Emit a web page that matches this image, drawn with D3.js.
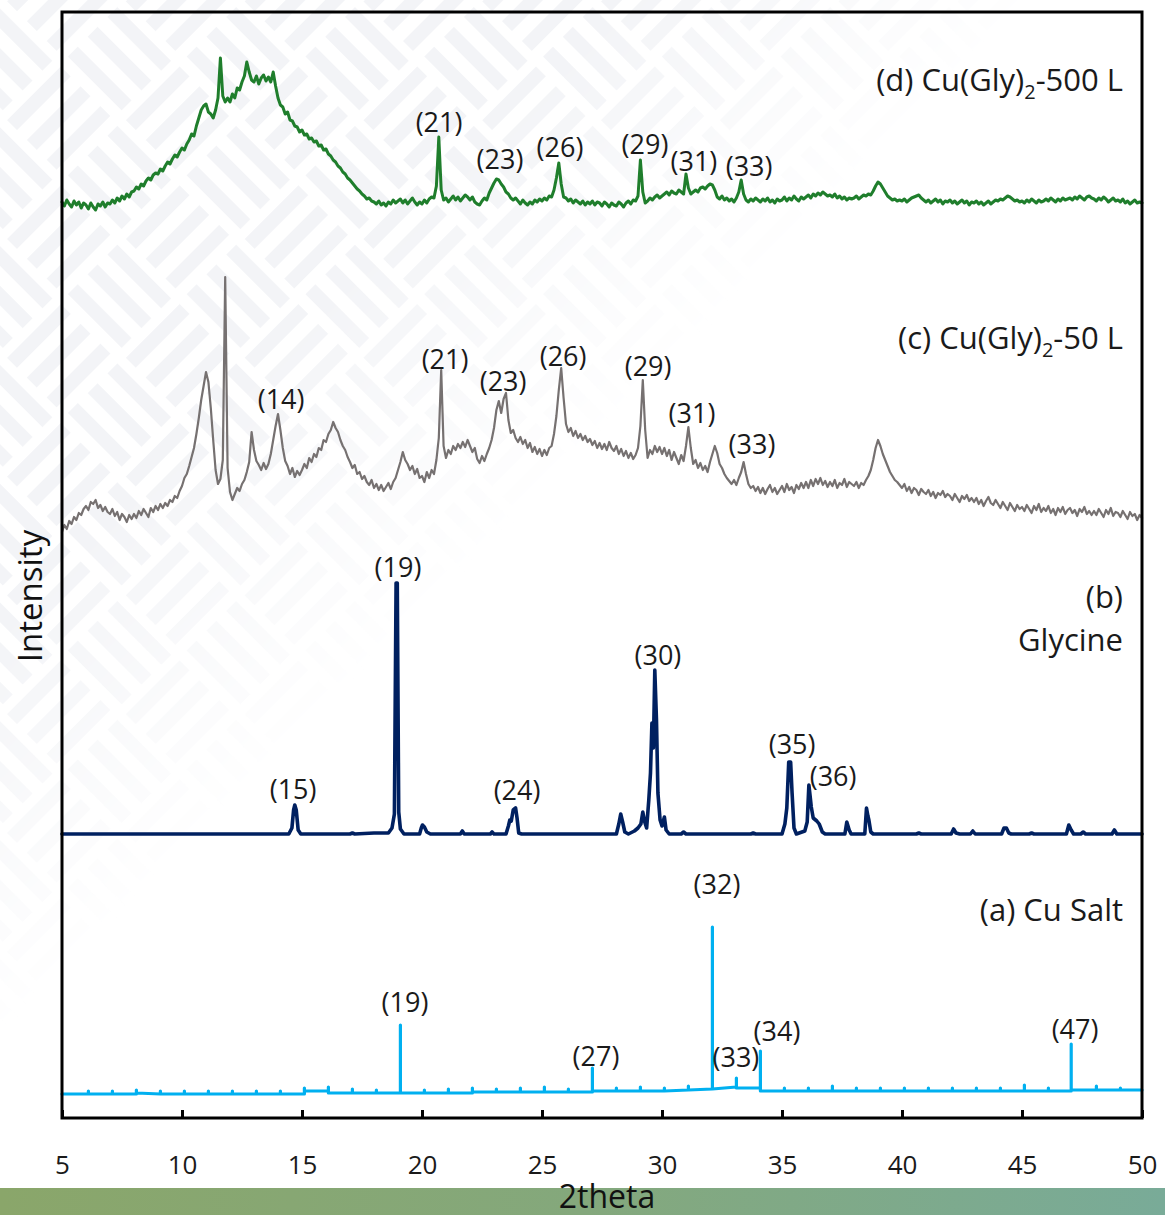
<!doctype html>
<html>
  <head>
    <meta charset="utf-8">
    <script src="https://cdnjs.cloudflare.com/ajax/libs/d3/7.8.5/d3.min.js"></script>
    <style>
      body { margin: 0; background: #fff; }
      svg { display: block; font-family: "Open Sans", "Noto Sans", sans-serif; }
    </style>
  </head>
  <body>
    <svg id="chart" width="1165" height="1215"></svg>
    <script>
      // 2theta grid of the two measured Cu(Gly)2 scans (0.1 deg step)
      var scanStart = 5, scanStep = 0.1;

      // (d) Cu(Gly)2-500 L, one row per degree
      var gly500 = [
        36,32,38,34,31,37,33,36,30,35, 33,29,35,31,28,34,32,36,31,35,
        34,38,35,40,37,42,39,44,41,46, 47,51,49,54,52,57,60,58,63,65,
        64,69,67,72,76,74,79,83,81,86, 90,88,94,98,104,102,112,120,128,132,
        134,126,124,120,128,140,180,142,136,140, 136,144,140,150,148,156,162,176,166,158,
        156,162,154,160,163,157,161,156,166,152, 140,133,131,124,126,118,117,112,111,106,
        108,103,104,99,100,96,97,92,93,88, 89,84,82,78,76,72,70,66,64,60,
        58,55,52,49,47,44,42,39,40,37, 36,34,37,33,35,32,36,34,38,35,
        37,39,35,38,34,37,40,36,33,36, 34,38,35,39,41,40,52,101,48,38,
        40,36,39,42,38,41,37,40,43,41, 38,41,36,34,33,37,40,38,45,50,
        55,59,58,54,51,46,44,40,38,40, 37,34,38,35,33,36,34,38,36,39,
        37,40,38,42,41,48,60,75,54,41, 40,37,39,35,38,36,34,37,33,36,
        34,37,33,36,35,32,36,34,31,35, 33,32,36,34,31,35,37,34,38,37,
        42,78,46,35,37,40,38,41,43,40, 42,44,46,43,47,45,44,48,46,44,
        64,50,44,46,48,46,50,51,49,52, 54,53,48,41,39,42,38,40,37,39,
        36,40,46,58,44,38,36,39,37,40, 38,36,39,37,40,36,38,35,39,37,
        38,41,37,40,38,42,39,37,41,39, 41,43,40,44,42,45,43,46,44,42,
        43,41,44,40,42,39,41,38,40,39, 40,42,39,41,43,42,44,43,47,52,
        56,54,50,46,42,40,38,39,37,38, 37,39,36,38,40,41,42,43,40,38,
        36,38,35,37,39,36,38,34,37,36, 38,35,37,34,36,38,35,37,33,36,
        35,37,34,36,33,35,37,34,36,38, 37,39,38,40,42,41,39,37,38,36,
        37,35,38,36,39,37,35,38,36,37, 39,37,40,38,36,39,37,40,38,39,
        40,38,41,39,42,40,38,41,42,40, 39,37,40,38,41,39,36,38,40,37,
        38,36,39,35,37,34,36,38,35,36, 35
      ];

      // (c) Cu(Gly)2-50 L
      var gly50 = [
        26,33,29,37,34,41,38,45,43,49, 52,48,56,54,58,50,53,47,51,46,
        44,49,42,46,38,44,41,36,43,39, 44,40,47,43,49,45,41,50,46,52,
        48,54,50,55,52,58,56,62,60,67, 72,80,84,92,101,110,124,140,158,172,
        186,176,150,118,88,74,79,98,281,90, 66,58,64,70,67,74,78,86,96,126,
        108,97,93,88,95,89,94,104,118,132, 144,128,110,97,92,84,90,81,87,83,
        88,94,90,100,96,104,101,110,108,118, 116,124,128,136,130,126,118,112,108,101,
        96,90,93,84,86,79,82,76,73,78, 70,74,68,73,67,71,75,69,76,80,
        88,96,106,98,94,88,92,84,89,80, 82,76,86,80,88,84,98,120,188,112,
        100,108,104,112,108,114,110,116,111,118, 112,106,110,99,95,102,97,104,110,118,
        130,148,157,145,159,165,138,125,128,120, 116,121,114,118,110,115,106,111,104,109,
        102,108,103,110,112,124,142,168,190,160, 134,126,130,122,127,120,124,118,122,116,
        119,113,117,110,115,109,114,108,116,110, 107,112,104,109,102,107,100,105,99,103,
        110,132,178,128,100,108,104,112,106,111, 104,110,102,108,98,106,100,94,103,97,
        112,131,110,94,98,90,95,88,92,86, 96,104,112,105,94,90,84,80,77,74,
        78,73,80,86,96,84,74,70,72,67, 71,65,70,64,69,73,66,70,64,68,
        72,66,74,68,71,65,73,69,75,70, 76,70,78,72,79,74,80,73,77,71,
        76,72,78,70,75,73,79,71,76,74, 72,76,70,75,73,78,82,88,98,110,
        118,112,104,98,92,86,82,78,76,73, 70,74,67,71,65,70,68,63,69,66,
        64,68,62,66,60,65,63,67,61,64, 62,58,64,60,56,62,59,63,57,60,
        56,60,54,58,52,57,61,55,53,58, 54,50,56,52,48,55,51,47,53,49,
        51,47,53,49,45,52,48,54,46,50, 47,52,45,49,43,50,46,51,44,48,
        50,45,48,42,49,46,51,44,47,43, 47,43,49,45,41,48,44,50,42,46,
        45,41,47,43,39,46,42,44,38,43, 40
      ];

      // (b) Glycine: [2theta, intensity]
      var glycine = [
        [5,14],[14.45,14],[14.58,20],[14.65,38],[14.7,43],[14.76,38],[14.84,18],[14.95,14],
        [17.0,14],[17.1,15],[17.2,14],[18.0,15],[18.6,15],[18.75,20],[18.85,34],[18.92,265],[18.97,265],[19.03,36],[19.1,19],[19.25,14],
        [19.9,14],[19.97,20],[20.02,23],[20.1,21],[20.2,16],[20.35,14],
        [21.6,14],[21.68,17],[21.76,14],[22.85,14],[22.92,16],[23.0,14],
        [23.5,14],[23.6,22],[23.66,28],[23.72,27],[23.8,38],[23.9,40],[23.96,30],[24.03,15],[24.15,14],
        [28.1,14],[28.2,24],[28.28,34],[28.36,26],[28.45,16],[28.6,14],
        [28.85,17],[29.0,20],[29.12,24],[29.2,36],[29.28,26],[29.36,20],[29.45,48],[29.52,75],[29.58,125],[29.64,100],
        [29.7,178],[29.77,128],[29.83,55],[29.92,28],[30.0,22],[30.1,31],[30.17,18],[30.3,14],
        [30.8,14],[30.9,16],[31.0,14],[33.7,14],[33.8,15],[33.9,14],
        [35.0,14],[35.12,24],[35.2,40],[35.28,86],[35.36,86],[35.42,55],[35.5,20],[35.6,14],
        [35.95,17],[36.05,26],[36.12,63],[36.18,50],[36.22,41],[36.3,30],[36.45,27],[36.55,24],[36.68,16],[36.8,14],
        [37.62,14],[37.7,26],[37.8,18],[37.88,14],
        [38.45,14],[38.52,40],[38.58,32],[38.62,28],[38.7,16],[38.8,14],
        [40.6,14],[40.7,15],[40.8,14],[42.05,14],[42.15,19],[42.25,15],[42.4,14],
        [42.85,14],[42.95,17],[43.05,14],[44.15,14],[44.25,20],[44.35,20],[44.45,15],[44.55,14],
        [45.3,14],[45.4,15],[45.5,14],[46.85,14],[46.95,23],[47.05,18],[47.15,14],
        [47.45,14],[47.55,16],[47.65,14],[48.75,14],[48.85,18],[48.95,14],[50,14]
      ];

      // (a) Cu salt: [2theta, intensity]
      var cuSalt = [
        [5.0,24],
        [6.1,24],[6.1,27],[6.1,24],[7.1,24],[7.1,27],[7.1,24],[8.1,24],[8.1,28],[8.1,25],
        [9.1,24],[9.1,27],[9.1,24],[10.1,24],[10.1,27],[10.1,24],[11.1,24],[11.1,27],[11.1,24],
        [12.1,24],[12.1,27],[12.1,24],[13.1,24],[13.1,27],[13.1,24],[14.1,24],[14.1,27],[14.1,24],
        [15.1,24],[15.1,30],[15.1,27],[16.1,27],[16.1,31],[16.1,25],[17.1,25],[17.1,29],[17.1,25],
        [18.1,25],[18.1,28],[18.1,25],[19.1,25],[19.1,93],[19.1,25],[20.1,25],[20.1,28],[20.1,25],
        [21.1,25],[21.1,29],[21.1,25],[22.1,25],[22.1,30],[22.1,26],[23.1,26],[23.1,29],[23.1,26],
        [24.1,26],[24.1,30],[24.1,26],[25.1,26],[25.1,31],[25.1,26],[26.1,26],[26.1,29],[26.1,26],
        [27.1,26],[27.1,50],[27.1,27],[28.1,27],[28.1,30],[28.1,27],[29.1,27],[29.1,31],[29.1,27],
        [30.1,27],[30.1,30],[30.1,27],[31.1,28],[31.1,32],[31.1,28],[32.1,29],[32.1,191],[32.1,29],
        [33.1,31],[33.1,40],[33.1,30],[34.1,30],[34.1,67],[34.1,27],[35.1,27],[35.1,30],[35.1,27],
        [36.1,27],[36.1,30],[36.1,27],[37.1,27],[37.1,32],[37.1,27],[38.1,27],[38.1,30],[38.1,27],
        [39.1,27],[39.1,30],[39.1,27],[40.1,27],[40.1,30],[40.1,27],[41.1,27],[41.1,30],[41.1,27],
        [42.1,27],[42.1,30],[42.1,27],[43.1,27],[43.1,30],[43.1,27],[44.1,27],[44.1,30],[44.1,27],
        [45.1,27],[45.1,33],[45.1,27],[46.1,27],[46.1,30],[46.1,27],[47.05,27],[47.05,74],[47.05,28],
        [48.1,28],[48.1,32],[48.1,28],[49.1,28],[49.1,30],[49.1,28],[50.0,28]
      ];

      // vertical stacking offsets
      var offsets = { a: 0, b: 270, c: 560, d: 880 };

      // peak labels: [text, 2theta, stacked intensity]
      var labelsD = [["(21)",20.71,995],["(23)",23.25,958],["(26)",25.75,970],["(29)",29.29,973],["(31)",31.33,956],["(33)",33.63,951]];
      var labelsC = [["(14)",14.13,718],["(21)",20.96,758],["(23)",23.38,736],["(26)",25.88,761],["(29)",29.42,751],["(31)",31.25,704],["(33)",33.75,673]];
      var labelsB = [["(15)",14.63,328],["(19)",19.0,550],["(24)",23.96,327],["(30)",29.83,462],["(35)",35.42,373],["(36)",37.13,341]];
      var labelsA = [["(19)",19.29,115],["(27)",27.25,61],["(32)",32.29,233],["(33)",33.08,60],["(34)",34.79,86],["(47)",47.21,88]];

      var xTicks = [5, 10, 15, 20, 25, 30, 35, 40, 45, 50];

      var svg = d3.select("#chart");
      var x = d3.scaleLinear().domain([5, 50]).range([62, 1142]);
      var y = d3.scaleLinear().domain([0, 1106]).range([1118, 12]);

      // background weave watermark
      var defs = svg.append("defs");
      var pat = defs.append("pattern").attr("id", "weave")
          .attr("patternUnits", "userSpaceOnUse").attr("width", 168).attr("height", 168)
          .attr("patternTransform", "rotate(45)");
      [0, 28, 56].forEach(function(o) {
        pat.append("rect").attr("x", 4).attr("y", o + 6).attr("width", 76).attr("height", 14).attr("fill", "#f3f4f7");
        pat.append("rect").attr("x", 88).attr("y", o + 90).attr("width", 76).attr("height", 14).attr("fill", "#f3f4f7");
        pat.append("rect").attr("x", 84 + o + 6).attr("y", 4).attr("width", 14).attr("height", 76).attr("fill", "#f3f4f7");
        pat.append("rect").attr("x", o + 6).attr("y", 88).attr("width", 14).attr("height", 76).attr("fill", "#f3f4f7");
      });
      var fade = defs.append("linearGradient").attr("id", "fade")
          .attr("gradientUnits", "userSpaceOnUse")
          .attr("x1", 0).attr("y1", 0).attr("x2", 520).attr("y2", 520);
      fade.append("stop").attr("offset", 0).attr("stop-color", "#fff");
      fade.append("stop").attr("offset", 0.6).attr("stop-color", "#fff");
      fade.append("stop").attr("offset", 1).attr("stop-color", "#000");
      defs.append("mask").attr("id", "fadeMask")
        .append("rect").attr("width", 1165).attr("height", 1215).attr("fill", "url(#fade)");
      svg.append("rect").attr("width", 1165).attr("height", 1180)
          .attr("fill", "url(#weave)").attr("mask", "url(#fadeMask)");

      // bottom band
      var band = defs.append("linearGradient").attr("id", "band");
      band.append("stop").attr("offset", 0).attr("stop-color", "#8aa66a");
      band.append("stop").attr("offset", 0.5).attr("stop-color", "#84a87c");
      band.append("stop").attr("offset", 1).attr("stop-color", "#79ab98");
      svg.append("rect").attr("x", 0).attr("y", 1188).attr("width", 1165).attr("height", 27)
          .attr("fill", "url(#band)");

      var line = d3.line().x(function(d) { return x(d[0]); }).y(function(d) { return y(d[1]); });

      function gridSeries(vals, off) {
        return vals.map(function(v, i) { return [scanStart + i * scanStep, v + off]; });
      }
      function pairSeries(vals, off) {
        return vals.map(function(p) { return [p[0], p[1] + off]; });
      }

      var series = [
        { pts: pairSeries(cuSalt, offsets.a), color: "#00b0f0", w: 3.2 },
        { pts: pairSeries(glycine, offsets.b), color: "#002060", w: 3.6 },
        { pts: gridSeries(gly50, offsets.c), color: "#767171", w: 2.2 },
        { pts: gridSeries(gly500, offsets.d), color: "#1f7e2c", w: 3 }
      ];
      svg.append("g").selectAll("path").data(series).enter().append("path")
          .attr("d", function(s) { return line(s.pts); })
          .attr("fill", "none")
          .attr("stroke", function(s) { return s.color; })
          .attr("stroke-width", function(s) { return s.w; })
          .attr("stroke-linejoin", "round")
          .attr("stroke-linecap", "round");

      // frame and inward ticks
      svg.append("rect").attr("x", x(5)).attr("y", y(1106)).attr("width", x(50) - x(5)).attr("height", y(0) - y(1106))
          .attr("fill", "none").attr("stroke", "#000").attr("stroke-width", 3);
      var xAxis = d3.axisBottom(x).tickValues(xTicks).tickSizeInner(-8).tickSizeOuter(0).tickPadding(38);
      var gx = svg.append("g").attr("transform", "translate(0," + y(0) + ")").call(xAxis);
      gx.select(".domain").remove();
      gx.selectAll(".tick line").attr("stroke", "#000").attr("stroke-width", 3);
      gx.selectAll(".tick text").attr("font-size", 26).attr("fill", "#1a1a1a")
          .attr("font-family", "Open Sans, sans-serif");

      // peak labels
      var allLabels = labelsD.concat(labelsC, labelsB, labelsA);
      svg.append("g").selectAll("text").data(allLabels).enter().append("text")
          .attr("x", function(d) { return x(d[1]); })
          .attr("y", function(d) { return y(d[2]); })
          .attr("dy", "0.35em")
          .attr("text-anchor", "middle")
          .attr("font-size", 27)
          .attr("fill", "#1a1a1a")
          .text(function(d) { return d[0]; });

      // series names
      function name(parts, val) {
        var t = svg.append("text").attr("x", x(49.21)).attr("y", y(val)).attr("dy", "0.35em")
            .attr("text-anchor", "end").attr("font-size", 31).attr("fill", "#1a1a1a");
        parts.forEach(function(p) {
          var s = t.append("tspan").text(p[0]);
          if (p[1]) s.attr("font-size", 20).attr("dy", 8);
          else if (p[2]) s.attr("dy", -8);
        });
      }
      name([["(d) Cu(Gly)"], ["2", true], ["-500 L", false, true]], 1038);
      name([["(c) Cu(Gly)"], ["2", true], ["-50 L", false, true]], 780);
      name([["(b)"]], 521);
      name([["Glycine"]], 478);
      name([["(a) Cu Salt"]], 208);

      // axis titles
      svg.append("text").attr("x", 607).attr("y", 1208).attr("text-anchor", "middle")
          .attr("font-size", 32).attr("fill", "#111").text("2theta");
      svg.append("text").attr("transform", "translate(42,596) rotate(-90)").attr("text-anchor", "middle")
          .attr("font-size", 33).attr("fill", "#111").text("Intensity");
    </script>
  </body>
</html>
